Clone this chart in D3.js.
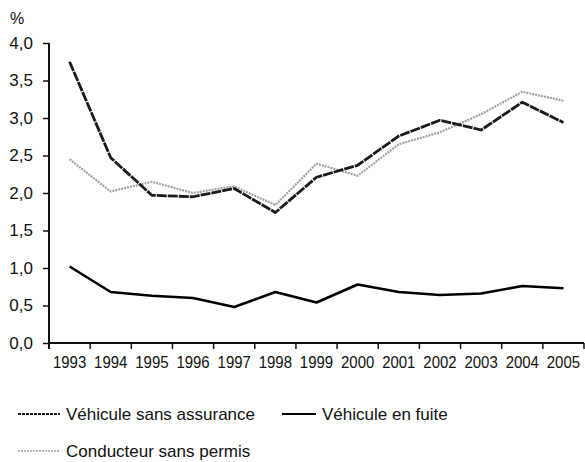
<!DOCTYPE html>
<html>
<head>
<meta charset="utf-8">
<script src="https://cdn.jsdelivr.net/npm/d3@7"></script>
<style>
  body { margin: 0; background: #fff; }
  svg text { font-family: "Liberation Sans Narrow", "Arial Narrow", "Liberation Sans", sans-serif; fill: #111; }
</style>
</head>
<body>
<svg id="chart"></svg>
<script>
// data
const years = [1993, 1994, 1995, 1996, 1997, 1998, 1999, 2000, 2001, 2002, 2003, 2004, 2005];
const sansAssurance = [3.75, 2.47, 1.97, 1.95, 2.06, 1.74, 2.21, 2.37, 2.76, 2.97, 2.84, 3.21, 2.94];
const enFuite = [1.02, 0.68, 0.63, 0.60, 0.48, 0.68, 0.54, 0.78, 0.68, 0.64, 0.66, 0.76, 0.73];
const sansPermis = [2.45, 2.02, 2.15, 2.00, 2.09, 1.84, 2.39, 2.23, 2.65, 2.81, 3.05, 3.35, 3.23];
const yTicks = [0, 0.5, 1, 1.5, 2, 2.5, 3, 3.5, 4];

const width = 585;
const height = 462;
const padLeft = 49, padRight = 584, padTop = 43, padBottom = 343;

const svg = d3.select('#chart')
    .attr('width', width)
    .attr('height', height);

const x = d3.scaleBand()
    .domain(years)
    .range([padLeft, padRight])
    .padding(0);
const y = d3.scaleLinear()
    .domain([0, 4])
    .range([padBottom, padTop]);

const fr = d3.formatLocale({decimal: ',', thousands: ' ', grouping: [3], currency: ['', '']});
const fmt = fr.format('.1f');

// y axis
const yAxis = d3.axisLeft(y)
    .tickValues(yTicks)
    .tickFormat(fmt)
    .tickSize(6)
    .tickPadding(10);
const gy = svg.append('g')
    .attr('transform', 'translate(' + padLeft + ',0)')
    .call(yAxis);
gy.select('.domain').remove();
gy.selectAll('.tick line').attr('stroke', '#111').attr('stroke-width', 1.5);
gy.selectAll('.tick text').attr('font-size', 17).attr('fill', '#111');
svg.append('line')
    .attr('x1', padLeft).attr('x2', padLeft)
    .attr('y1', y(4)).attr('y2', padBottom + 6)
    .attr('stroke', '#111').attr('stroke-width', 2);

svg.append('text')
    .attr('x', 17)
    .attr('y', 24)
    .attr('font-size', 16)
    .style('text-anchor', 'middle')
    .text('%');

// x axis
const xAxis = d3.axisBottom(x)
    .tickSize(0)
    .tickPadding(13);
const gx = svg.append('g')
    .attr('transform', 'translate(0,' + padBottom + ')')
    .call(xAxis);
gx.select('.domain').remove();
gx.selectAll('.tick text')
    .attr('font-size', 17)
    .attr('fill', '#111')
    .attr('transform', 'scale(0.88,1)');
svg.append('line')
    .attr('x1', padLeft).attr('x2', padRight)
    .attr('y1', padBottom).attr('y2', padBottom)
    .attr('stroke', '#111').attr('stroke-width', 2);
svg.append('g')
    .selectAll('line')
    .data(years.slice(1).map(d => x(d)).concat([padRight]))
    .enter()
    .append('line')
        .attr('x1', d => d).attr('x2', d => d)
        .attr('y1', padBottom).attr('y2', padBottom + 6)
        .attr('stroke', '#111').attr('stroke-width', 1.5);

// series
const series = [
  {name: 'Véhicule sans assurance', values: sansAssurance, color: '#1a1a1a', w: 2.8, dash: '10,1'},
  {name: 'Véhicule en fuite', values: enFuite, color: '#000', w: 2.6, dash: null},
  {name: 'Conducteur sans permis', values: sansPermis, color: '#a0a0a0', w: 2.2, dash: '2,1'}
];

const line = d3.line()
    .x((d, i) => x(years[i]) + x.bandwidth() / 2)
    .y(d => y(d));

svg.append('g')
    .selectAll('path')
    .data([series[2], series[0], series[1]])
    .enter()
    .append('path')
        .attr('d', d => line(d.values))
        .attr('fill', 'none')
        .attr('stroke', d => d.color)
        .attr('stroke-width', d => d.w)
        .attr('stroke-dasharray', d => d.dash)
        .attr('stroke-linejoin', 'round');

// legend
const legendPos = [[18, 414, 42], [282, 414, 34], [18, 451, 42]];
const lg = svg.append('g')
    .selectAll('g')
    .data(series)
    .enter()
    .append('g')
        .attr('transform', (d, i) => 'translate(' + legendPos[i][0] + ',' + legendPos[i][1] + ')');
lg.append('line')
    .attr('x1', 0).attr('x2', (d, i) => legendPos[i][2])
    .attr('stroke', d => d.color)
    .attr('stroke-width', d => d.w - 0.6)
    .attr('stroke-dasharray', (d, i) => i === 0 ? '3,1' : d.dash);
lg.append('text')
    .attr('x', (d, i) => legendPos[i][2] + 6)
    .attr('dy', '0.35em')
    .attr('font-size', 17)
    .text(d => d.name);
</script>
</body>
</html>
